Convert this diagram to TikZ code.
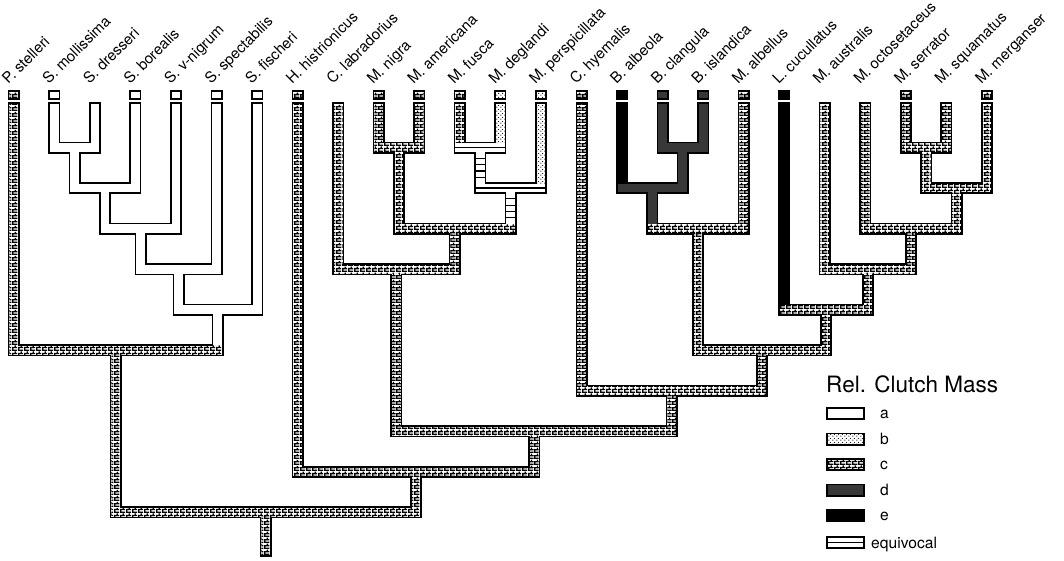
\documentclass[tikz,border=0pt]{standalone}
\usepackage{fontspec}
\setmainfont{TeX Gyre Heros}
\usetikzlibrary{patterns}
\pgfdeclarepatternformonly{cbricks}{\pgfpointorigin}{\pgfpoint{6pt}{6pt}}{\pgfpoint{6pt}{6pt}}{%
  \pgfsetlinewidth{1.5pt}%
  \pgfpathmoveto{\pgfpoint{0pt}{0.75pt}}\pgfpathlineto{\pgfpoint{6pt}{0.75pt}}%
  \pgfpathmoveto{\pgfpoint{0pt}{3.75pt}}\pgfpathlineto{\pgfpoint{6pt}{3.75pt}}%
  \pgfpathmoveto{\pgfpoint{0.75pt}{0.75pt}}\pgfpathlineto{\pgfpoint{0.75pt}{3.75pt}}%
  \pgfpathmoveto{\pgfpoint{3.75pt}{3.75pt}}\pgfpathlineto{\pgfpoint{3.75pt}{6pt}}%
  \pgfusepath{stroke}}
\pgfdeclarepatternformonly{bdots}{\pgfpointorigin}{\pgfpoint{4pt}{4pt}}{\pgfpoint{4pt}{4pt}}{%
  \pgfpathcircle{\pgfpoint{1pt}{1pt}}{0.7pt}%
  \pgfpathcircle{\pgfpoint{3pt}{3pt}}{0.7pt}%
  \pgfusepath{fill}}
\def\hw{4.4}\def\ot{1.6}\def\tiptop{104}\def\boxtop{90}\def\boxbot{100}
\def\lvA{147.5}\def\lvB{188.05}\def\lvC{228.6}\def\lvD{269.15}\def\lvE{309.7}
\def\lvF{350.25}\def\lvG{390.8}\def\lvH{431.35}\def\lvI{471.9}\def\lvJ{512.45}
\newcommand\treesegs{%
\VB{13.8}{\tiptop}{\lvF-\hw}{sc}
\VB{54.35}{\tiptop}{\lvA-\hw}{sa}
\VB{94.9}{\tiptop}{\lvA-\hw}{sa}
\HB{54.35}{94.9}{\lvA}{sa}
\VB{74.625}{\lvA+\hw}{\lvB-\hw}{sa}
\VB{135.45}{\tiptop}{\lvB-\hw}{sa}
\HB{74.625}{135.45}{\lvB}{sa}
\VB{105.04}{\lvB+\hw}{\lvC-\hw}{sa}
\VB{176.0}{\tiptop}{\lvC-\hw}{sa}
\HB{105.04}{176.0}{\lvC}{sa}
\VB{140.52}{\lvC+\hw}{\lvD-\hw}{sa}
\VB{216.55}{\tiptop}{\lvD-\hw}{sa}
\HB{140.52}{216.55}{\lvD}{sa}
\VB{178.53}{\lvD+\hw}{\lvE-\hw}{sa}
\VB{257.1}{\tiptop}{\lvE-\hw}{sa}
\HB{178.53}{257.1}{\lvE}{sa}
\VB{217.82}{\lvE+\hw}{\lvF-\hw}{sa}
\HB{13.8}{217.82}{\lvF}{sc}
\VB{115.81}{\lvF+\hw}{\lvJ-\hw}{sc}
\VB{297.65}{\tiptop}{\lvI-\hw}{sc}
\VB{338.2}{\tiptop}{\lvD-\hw}{sc}
\VB{378.75}{\tiptop}{\lvA-\hw}{sc}
\VB{419.3}{\tiptop}{\lvA-\hw}{sc}
\HB{378.75}{419.3}{\lvA}{sc}
\VB{399.03}{\lvA+\hw}{\lvC-\hw}{sc}
\VB{459.85}{\tiptop}{\lvA-\hw}{sc}
\VB{500.4}{\tiptop}{\lvA-\hw}{sb}
\HQ{459.85}{500.4}{\lvA}
\VQ{480.13}{\lvA+\hw}{\lvB-\hw}
\VB{540.95}{\tiptop}{\lvB-\hw}{sb}
\HQ{480.13}{540.95}{\lvB}
\VQ{510.54}{\lvB+\hw}{\lvC-\hw}
\HB{399.03}{510.54}{\lvC}{sc}
\VB{454.78}{\lvC+\hw}{\lvD-\hw}{sc}
\HB{338.2}{454.78}{\lvD}{sc}
\VB{396.49}{\lvD+\hw}{\lvH-\hw}{sc}
\VB{581.5}{\tiptop}{\lvG-\hw}{sc}
\VB{622.05}{\tiptop}{\lvB-\hw}{se}
\VB{662.6}{\tiptop}{\lvA-\hw}{sd}
\VB{703.15}{\tiptop}{\lvA-\hw}{sd}
\HB{662.6}{703.15}{\lvA}{sd}
\VB{682.88}{\lvA+\hw}{\lvB-\hw}{sd}
\HB{622.05}{682.88}{\lvB}{sd}
\VB{652.46}{\lvB+\hw}{\lvC-\hw}{sd}
\VB{743.7}{\tiptop}{\lvC-\hw}{sc}
\HB{652.46}{743.7}{\lvC}{sc}
\VB{698.08}{\lvC+\hw}{\lvF-\hw}{sc}
\VB{784.25}{\tiptop}{\lvE-\hw}{se}
\VB{824.8}{\tiptop}{\lvD-\hw}{sc}
\VB{865.35}{\tiptop}{\lvC-\hw}{sc}
\VB{905.9}{\tiptop}{\lvA-\hw}{sc}
\VB{946.45}{\tiptop}{\lvA-\hw}{sc}
\HB{905.9}{946.45}{\lvA}{sc}
\VB{926.18}{\lvA+\hw}{\lvB-\hw}{sc}
\VB{987.0}{\tiptop}{\lvB-\hw}{sc}
\HB{926.18}{987.0}{\lvB}{sc}
\VB{956.59}{\lvB+\hw}{\lvC-\hw}{sc}
\HB{865.35}{956.59}{\lvC}{sc}
\VB{910.97}{\lvC+\hw}{\lvD-\hw}{sc}
\HB{824.8}{910.97}{\lvD}{sc}
\VB{867.89}{\lvD+\hw}{\lvE-\hw}{sc}
\HB{784.25}{867.89}{\lvE}{sc}
\VB{826.07}{\lvE+\hw}{\lvF-\hw}{sc}
\HB{698.08}{826.07}{\lvF}{sc}
\VB{762.08}{\lvF+\hw}{\lvG-\hw}{sc}
\HB{581.5}{762.08}{\lvG}{sc}
\VB{671.79}{\lvG+\hw}{\lvH-\hw}{sc}
\HB{396.49}{671.79}{\lvH}{sc}
\VB{534.14}{\lvH+\hw}{\lvI-\hw}{sc}
\HB{297.65}{534.14}{\lvI}{sc}
\VB{415.90}{\lvI+\hw}{\lvJ-\hw}{sc}
\HB{115.81}{415.90}{\lvJ}{sc}
\VB{265.86}{\lvJ+\hw}{557-\ot}{sc}
}
\newcommand\treeboxes{%
\BX{13.8}{sc}\BX{54.35}{sa}\BX{135.45}{sa}\BX{176.0}{sa}\BX{216.55}{sa}
\BX{257.1}{sa}\BX{297.65}{sc}\BX{378.75}{sc}\BX{419.3}{sc}\BX{459.85}{sc}
\BX{500.4}{sb}\BX{540.95}{sb}\BX{581.5}{sc}\BX{622.05}{se}\BX{662.6}{sd}
\BX{703.15}{sd}\BX{743.7}{sc}\BX{784.25}{se}\BX{905.9}{sc}\BX{987.0}{sc}
}
\newcommand\legboxes{%
\LB{413.5}{sa}\LB{439}{sb}\LB{464.5}{sc}\LB{490}{sd}\LB{515.5}{se}\LQ{542.5}
}
\begin{document}
\begin{tikzpicture}[x=1pt,y=-1pt,
  sa/.style={fill=white},
  sb/.style={preaction={fill=white},pattern=bdots},
  sc/.style={preaction={fill=white},pattern=cbricks},
  sd/.style={fill=black!78},
  se/.style={fill=black},
  tiplab/.style={rotate=45,anchor=base west,inner sep=0pt,font=\fontsize{15}{18}\selectfont},
  leglab/.style={anchor=base west,inner sep=0pt,font=\fontsize{15.6}{18}\selectfont}]
\useasboundingbox (0,0) rectangle (1064,560);
\fill[white] (0,0) rectangle (1064,560);
% outline pass
\def\HB#1#2#3#4{\fill (#1-\hw-\ot,#3-\hw-\ot) rectangle (#2+\hw+\ot,#3+\hw+\ot);}
\def\VB#1#2#3#4{\fill (#1-\hw-\ot,#2-\ot) rectangle (#1+\hw+\ot,#3+\ot);}
\def\HQ#1#2#3{\HB{#1}{#2}{#3}{}}
\def\VQ#1#2#3{\VB{#1}{#2}{#3}{}}
\def\BX#1#2{\fill (#1-\hw-\ot,\boxtop) rectangle (#1+\hw+\ot,\boxbot);}
\def\LB#1#2{\fill (826,#1-6.5) rectangle (865,#1+6.5);}
\def\LQ#1{\LB{#1}{}}
\treesegs
\treeboxes
\legboxes
% fill pass
\def\HB#1#2#3#4{\path[#4] (#1-\hw,#3-\hw) rectangle (#2+\hw,#3+\hw);}
\def\VB#1#2#3#4{\path[#4] (#1-\hw,#2) rectangle (#1+\hw,#3);}
\def\HQ#1#2#3{\fill[white] (#1-\hw,#3-\hw) rectangle (#2+\hw,#3+\hw);
  \draw[line width=1.2pt] (#1-\hw,#3) -- (#2+\hw,#3);}
\def\VQ#1#2#3{\fill[white] (#1-\hw,#2) rectangle (#1+\hw,#3);
  \foreach \k in {1,...,4}{\draw[line width=1.2pt] (#1-\hw,{#2+(#3-(#2))*\k/5}) -- (#1+\hw,{#2+(#3-(#2))*\k/5});}}
\def\BX#1#2{\path[#2] (#1-\hw,\boxtop+\ot) rectangle (#1+\hw,\boxbot-\ot);}
\def\LB#1#2{\path[#2] (826+\ot,#1-6.5+\ot) rectangle (865-\ot,#1+6.5-\ot);}
\def\LQ#1{\LB{#1}{sa}\draw[line width=1.2pt] (826,#1) -- (865,#1);}
\treesegs
\treeboxes
\legboxes
% tip labels
\node[tiplab] (l1) at (8.3,85) {P. stelleri};
\node[tiplab] (l2) at (48.85,85) {S. mollissima};
\node[tiplab] (l3) at (89.4,85) {S. dresseri};
\node[tiplab] (l4) at (129.95,85) {S. borealis};
\node[tiplab] (l5) at (170.5,85) {S. v-nigrum};
\node[tiplab] (l6) at (211.05,85) {S. spectabilis};
\node[tiplab] (l7) at (251.6,85) {S. fischeri};
\node[tiplab] (l8) at (292.15,85) {H. histrionicus};
\node[tiplab] (l9) at (332.7,85) {C. labradorius};
\node[tiplab] (l10) at (373.25,85) {M. nigra};
\node[tiplab] (l11) at (413.8,85) {M. americana};
\node[tiplab] (l12) at (454.35,85) {M. fusca};
\node[tiplab] (l13) at (494.9,85) {M. deglandi};
\node[tiplab] (l14) at (535.45,85) {M. perspicillata};
\node[tiplab] (l15) at (576.0,85) {C. hyemalis};
\node[tiplab] (l16) at (616.55,85) {B. albeola};
\node[tiplab] (l17) at (657.1,85) {B. clangula};
\node[tiplab] (l18) at (697.65,85) {B. islandica};
\node[tiplab] (l19) at (738.2,85) {M. albellus};
\node[tiplab] (l20) at (778.75,85) {L. cucullatus};
\node[tiplab] (l21) at (819.3,85) {M. australis};
\node[tiplab] (l22) at (859.85,85) {M. octosetaceus};
\node[tiplab] (l23) at (900.4,85) {M. serrator};
\node[tiplab] (l24) at (940.95,85) {M. squamatus};
\node[tiplab] (l25) at (981.5,85) {M. merganser};
% legend
\node[anchor=base west,inner sep=0pt,font=\fontsize{22.5}{26}\selectfont] (lt) at (826,392) {Rel. Clutch Mass};
\node[leglab] (la) at (880,418.5) {a};
\node[leglab] (lb) at (880,444) {b};
\node[leglab] (lc) at (880,469.5) {c};
\node[leglab] (ld) at (880,495) {d};
\node[leglab] (le) at (880,520.5) {e};
\node[leglab] (lq) at (871,548) {equivocal};
\end{tikzpicture}
\end{document}
